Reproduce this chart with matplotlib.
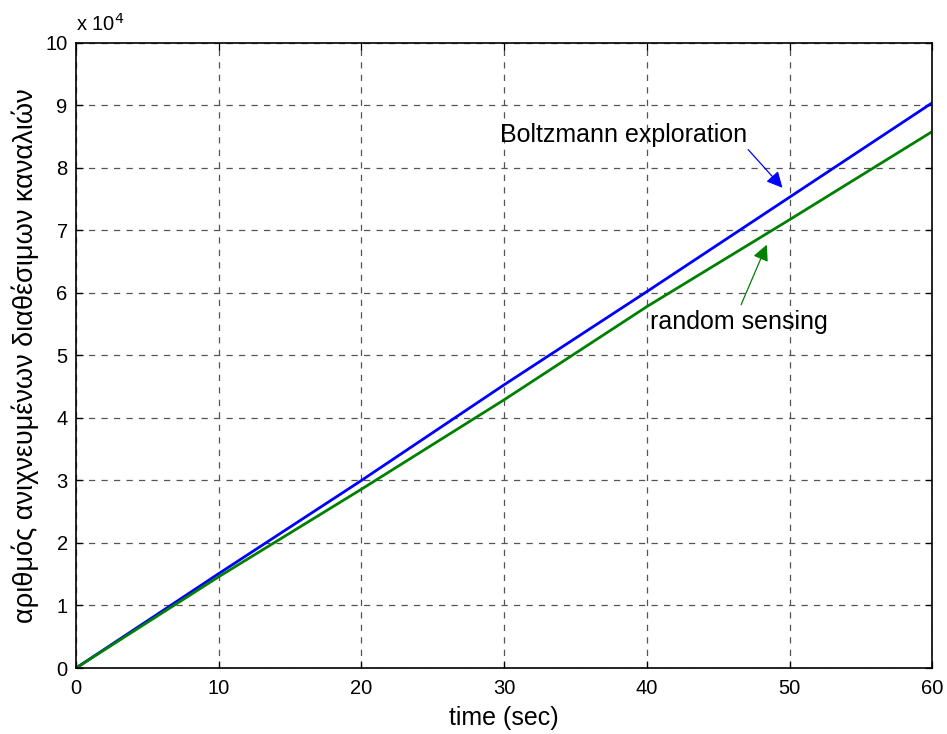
import matplotlib
matplotlib.use("Agg")
import matplotlib.pyplot as plt
from matplotlib.ticker import FuncFormatter

plt.rcParams['font.family'] = ['Liberation Sans', 'DejaVu Sans']

time_sec = [0, 10, 20, 30, 40, 50, 60]
boltzmann = [0, 15100, 30000, 45300, 60200, 75300, 90400]
random_sensing = [0, 14600, 28600, 42900, 57800, 71700, 85800]

x_ticks = [0, 10, 20, 30, 40, 50, 60]
y_ticks = [0, 1, 2, 3, 4, 5, 6, 7, 8, 9, 10]

fig = plt.figure(figsize=(9.47, 7.34), dpi=100)
ax = fig.add_axes([0.0803, 0.0899, 0.9042, 0.8519])

ax.plot(time_sec, boltzmann, color='#0000ff', lw=2.0)
ax.plot(time_sec, random_sensing, color='#008000', lw=2.0)

ax.set_xlim(0, 60)
ax.set_ylim(0, 100000)
ax.set_xticks(x_ticks)
ax.set_yticks([v * 1e4 for v in y_ticks])
ax.yaxis.set_major_formatter(FuncFormatter(lambda v, p: f"{v / 1e4:g}"))

ax.grid(True, linestyle=(0, (5, 5)), color='#555555', lw=0.9)
ax.tick_params(direction='in', top=True, right=True, length=5, width=0.9,
               labelsize=14.5)
ax.tick_params(axis='x', pad=8)
ax.tick_params(axis='y', pad=6)
for s in ax.spines.values():
    s.set_linewidth(1.2)

ax.text(0.0, 1.012, r"x 10$^4$", transform=ax.transAxes, fontsize=14.5,
        ha='left', va='bottom')

ax.set_xlabel("time (sec)", fontsize=18, labelpad=6)
ax.set_ylabel("αριθμός ανιχνευμένων διαθέσιμων καναλιών", fontsize=19.5, labelpad=5)

ax.text(29.7, 85300, "Boltzmann exploration", fontsize=18, va='center', ha='left')
ax.annotate("", xy=(49.5, 76800), xytext=(47.1, 82900),
            arrowprops=dict(arrowstyle='-|>', color='#0000ff', lw=0.9,
                            mutation_scale=24, shrinkA=0, shrinkB=0))

ax.text(40.2, 55400, "random sensing", fontsize=18, va='center', ha='left')
ax.annotate("", xy=(48.4, 67700), xytext=(46.6, 58100),
            arrowprops=dict(arrowstyle='-|>', color='#008000', lw=0.9,
                            mutation_scale=24, shrinkA=0, shrinkB=0))

fig.savefig("out.png", dpi=100)
